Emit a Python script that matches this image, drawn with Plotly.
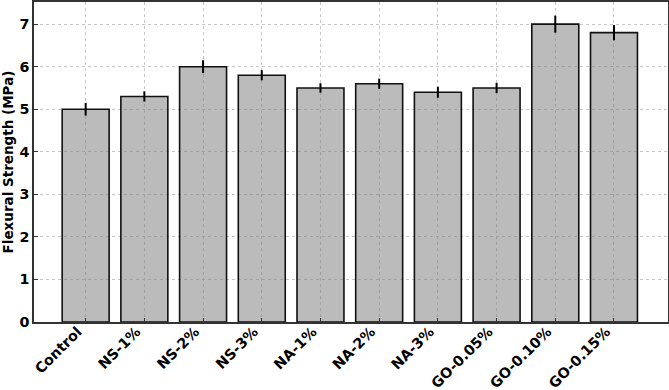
import plotly.graph_objects as go

categories = ["Control", "NS-1%", "NS-2%", "NS-3%", "NA-1%", "NA-2%", "NA-3%", "GO-0.05%", "GO-0.10%", "GO-0.15%"]
strength = [5.0, 5.3, 6.0, 5.8, 5.5, 5.6, 5.4, 5.5, 7.0, 6.8]
errors = [0.15, 0.12, 0.15, 0.12, 0.11, 0.12, 0.13, 0.12, 0.2, 0.18]

fig = go.Figure()
fig.add_trace(go.Bar(
    x=list(range(len(categories))), y=strength,
    width=0.8,
    marker=dict(color="rgba(120,120,120,0.5)", line=dict(color="#111111", width=1.6)),
    error_y=dict(type="data", array=errors, visible=True, color="black", thickness=2, width=0),
))

font = dict(family="DejaVu Sans", size=14.3, color="black", weight="bold")
fig.update_layout(
    width=669, height=390,
    margin=dict(l=34, r=1, t=2, b=68),
    plot_bgcolor="white", paper_bgcolor="white",
    showlegend=False,
    font=font,
)
fig.update_xaxes(
    range=[-0.88, 9.92], automargin=False,
    tickmode="array", tickvals=list(range(len(categories))), ticktext=categories,
    tickangle=-45, tickfont=font,
    ticklabelshift=-8, ticklabelstandoff=-6,
    showgrid=True, gridcolor="#c8c8c8", griddash="dot", gridwidth=1,
    showline=True, linecolor="#333333", linewidth=1.5, mirror=True,
    ticks="inside", ticklen=4, tickcolor="#333333",
)
fig.update_yaxes(
    range=[0, 7.52], automargin=False,
    tickvals=[0, 1, 2, 3, 4, 5, 6, 7],
    tickfont=font,
    title=dict(text="Flexural Strength (MPa)", font=dict(family="DejaVu Sans", size=13.5, color="black", weight="bold"), standoff=4),
    showgrid=True, gridcolor="#c8c8c8", griddash="dot", gridwidth=1,
    showline=True, linecolor="#333333", linewidth=1.5, mirror=True,
    ticks="inside", ticklen=4, tickcolor="#333333",
    zeroline=False,
)
fig.write_html("out.html", config={"displayModeBar": False},
               post_script="document.body.style.margin='0';document.body.style.overflow='hidden';")
